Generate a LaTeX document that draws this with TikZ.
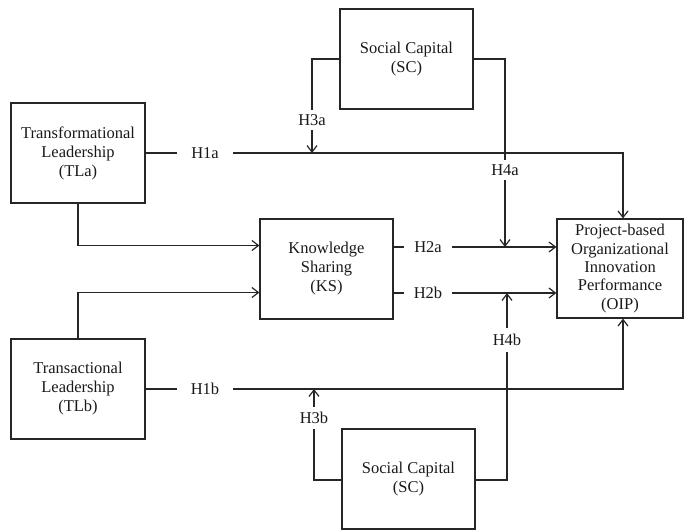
\documentclass[tikz,border=0pt]{standalone}
\usepackage{fontspec}
\setmainfont{Liberation Serif}
\usetikzlibrary{arrows.meta}

\begin{document}
\begin{tikzpicture}[x=1pt,y=-1pt,
  font=\fontsize{16.5}{19}\selectfont,
  every node/.style={text=black!90},
  box/.style={draw=black!85, line width=1.2pt, inner sep=0pt, align=center},
  link/.style={draw=black!85, line width=1.2pt},
  arr/.style={link, -{Straight Barb[length=6.5pt,width=10pt,line width=1.2pt]}},
  hyp/.style={fill=white, inner xsep=10pt, inner ysep=4pt}]
\useasboundingbox (0,0) rectangle (684,530);

% constructs
\node[box, minimum width=133pt, minimum height=100pt] (sct) at (406.5,59) {Social Capital\\(SC)};
\node[box, minimum width=134pt, minimum height=100pt] (tla) at (78,153) {Transformational\\Leadership\\(TLa)};
\node[box, minimum width=133pt, minimum height=100pt] (ks) at (326.5,269) {Knowledge\\Sharing\\(KS)};
\node[box, minimum width=126pt, minimum height=99pt, font=\fontsize{16.5}{18.3}\selectfont] (oip) at (620,268.5) {Project-based\\Organizational\\Innovation\\Performance\\(OIP)};
\node[box, minimum width=134pt, minimum height=100pt] (tlb) at (78,389) {Transactional\\Leadership\\(TLb)};
\node[box, minimum width=133pt, minimum height=100pt] (scb) at (408.5,479) {Social Capital\\(SC)};

% points where the moderating paths meet the direct paths
\coordinate (m3a) at (312,153);
\coordinate (m4a) at (505,247);
\coordinate (m3b) at (314,389);
\coordinate (m4b) at (507,293);

% direct paths
\draw[arr] (tla.east) -| ([xshift=3pt]oip.north);
\draw[arr] (tlb.east) -| ([xshift=3pt]oip.south);
\draw[arr] (tla.south) |- ([yshift=23.5pt]ks.west);
\draw[arr] (tlb.north) |- ([yshift=-23.5pt]ks.west);
\draw[arr] ([yshift=22pt]ks.east) -- ([yshift=22pt]ks.east -| oip.west);
\draw[arr] ([yshift=-24pt]ks.east) -- ([yshift=-24pt]ks.east -| oip.west);

% moderating paths
\draw[arr] (sct.west) -| (m3a);
\draw[arr] (sct.east) -| (m4a);
\draw[arr] ([yshift=-1pt]scb.west) -| (m3b);
\draw[arr] ([yshift=-1pt]scb.east) -| (m4b);

% hypothesis labels
\node[hyp, inner xsep=14pt] (h1a) at (205,153) {H1a};
\node[hyp, inner xsep=14pt] (h1b) at (205,389) {H1b};
\node[hyp] (h2a) at (428,247) {H2a};
\node[hyp] (h2b) at (428,293) {H2b};
\node[hyp] (h3a) at (312,120) {H3a};
\node[hyp] (h4a) at (505,170) {H4a};
\node[hyp, inner ysep=5pt] (h3b) at (314,418) {H3b};
\node[hyp, inner ysep=6pt] (h4b) at (507,340) {H4b};
\end{tikzpicture}
\end{document}
